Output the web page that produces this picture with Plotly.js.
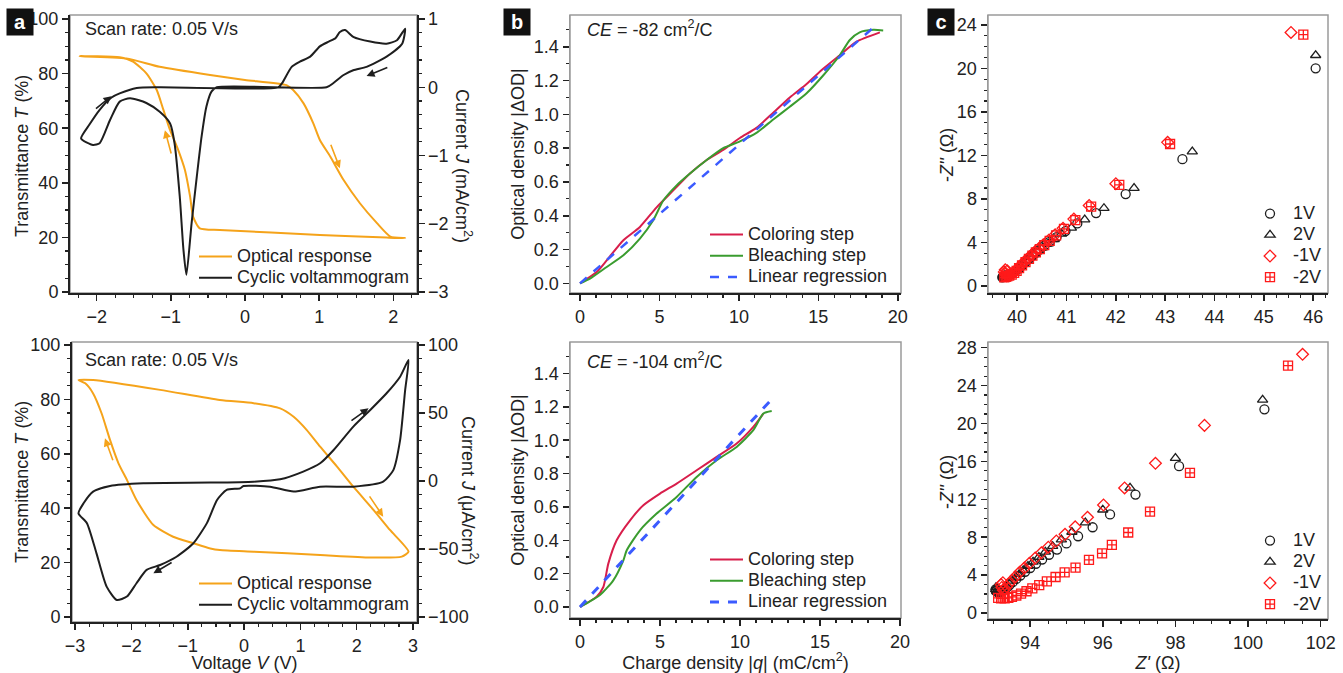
<!DOCTYPE html>
<html><head><meta charset="utf-8">
<script src="https://cdn.plot.ly/plotly-3.0.1.min.js"></script>
<style>html,body{margin:0;padding:0;background:#fff}#chart{width:1343px;height:673px}</style>
</head><body><div id="chart"></div>
<script>
// ---------- Panel a (top): scan 0.05 V/s ----------
const aTopOptV = [-2.23,-1.6,-1.15,-0.47,0,0.56,0.65,0.79,0.92,1.01,1.15,1.33,1.55,1.78,1.96,2.16,1.91,1.01,-0.34,-0.61,-0.70,-0.74,-0.81,-0.9,-1.01,-1.1,-1.19,-1.33,-1.51,-1.69,-2.23];
const aTopOptT = [86.4,85.6,82.5,79.5,77.7,75.8,74,69.1,61.9,55.7,49.6,41,32.5,25.2,20.3,19.7,19.9,20.9,22.7,23.3,27.6,34.9,44.7,52,59.3,66.7,74,80.1,84.4,86,86.4];
const aTopCvV = [-2.21,-2.1,-1.96,-1.8,-1.69,-1.46,-1.15,0.45,0.50,0.63,0.74,0.88,1.01,1.13,1.22,1.28,1.35,1.46,1.69,1.91,2.05,2.16,2.12,1.91,1.64,1.46,1.33,1.19,1.10,-0.38,-0.45,-0.52,-0.585,-0.65,-0.72,-0.79,-0.83,-0.88,-0.95,-1.01,-1.15,-1.33,-1.55,-1.69,-1.82,-1.96,-2.05,-2.21];
const aTopCvJ = [-0.75,-0.55,-0.33,-0.15,-0.09,-0.01,0,0,0.06,0.30,0.375,0.45,0.6,0.67,0.72,0.81,0.84,0.74,0.67,0.64,0.69,0.86,0.64,0.45,0.30,0.25,0.18,0.06,0,0,-0.06,-0.28,-0.72,-1.31,-1.99,-2.75,-2.38,-1.6,-0.82,-0.53,-0.36,-0.23,-0.16,-0.21,-0.48,-0.82,-0.845,-0.75];

// ---------- Panel a (bottom) ----------
const aBotOptV = [-2.94,-2.68,-1.49,-0.43,0.17,0.64,0.88,1.11,1.35,1.65,1.94,2.30,2.59,2.92,2.80,2.24,1.35,0.17,-0.43,-0.6,-0.9,-1.26,-1.61,-1.91,-2.08,-2.23,-2.38,-2.53,-2.68,-2.82,-2.94];
const aBotOptT = [87.1,87.1,83.5,79.8,78.6,76.7,73.6,68.8,62.6,55.3,47.9,39.3,32,24,22.2,21.9,22.8,24,24.6,25.2,27.1,29.5,33.8,43,50.4,56.5,65.1,74.9,82.2,85.9,87.1];
const aBotCvV = [-2.94,-2.85,-2.68,-2.38,-1.79,-0.6,0.17,0.64,1.05,1.35,1.59,1.94,2.24,2.53,2.77,2.92,2.86,2.77,2.65,2.47,1.94,1.35,0.88,0.46,-0.01,-0.07,-0.31,-0.48,-0.66,-0.9,-1.2,-1.49,-1.73,-1.91,-2.08,-2.26,-2.44,-2.62,-2.79,-2.94];
const aBotCvJ = [-23.8,-16.4,-7.8,-3.7,-1.7,-1.2,-0.5,1.2,6.9,13,22.8,40,52.2,64.5,76.7,89,67,30,8,-0.5,-4.2,-4.2,-7.8,-4.2,-3.7,-5.4,-6.6,-14,-31,-45.8,-55.7,-61.8,-65.4,-75.2,-85,-87.5,-77.7,-53.2,-31,-23.8];

// ---------- Panel b (top): CE = -82 ----------
const bTopColQ = [0,1.05,1.68,2.73,3.77,4.82,5.87,6.92,7.97,9.01,10.06,11.1,12.16,13.2,14.26,15.3,16.35,17.4,18.87];
const bTopColOD = [0,0.067,0.136,0.255,0.334,0.45,0.55,0.65,0.73,0.79,0.86,0.92,1.01,1.10,1.18,1.27,1.35,1.43,1.485];
const bTopBleQ = [0,0.63,1.68,2.73,3.77,4.61,5.24,6.08,6.92,7.97,9.01,10.06,11.1,12.16,13.2,14.26,15.3,16.35,16.98,17.6,18.45,19.08];
const bTopBleOD = [0,0.028,0.097,0.166,0.265,0.374,0.49,0.58,0.65,0.73,0.80,0.84,0.89,0.97,1.045,1.125,1.23,1.35,1.44,1.485,1.50,1.497];
const bTopFitQ = [0,18.7];
const bTopFitOD = [0,1.533];

// ---------- Panel b (bottom): CE = -104 ----------
const bBotColQ = [0,1.04,1.46,1.77,2.29,3.13,3.96,5.0,6.04,7.29,8.54,9.79,10.83,11.46];
const bBotColOD = [0,0.062,0.12,0.26,0.40,0.52,0.61,0.68,0.74,0.82,0.90,0.98,1.08,1.16];
const bBotBleQ = [0,1.25,2.08,2.71,2.92,3.75,4.79,6.04,7.29,8.54,9.79,10.83,11.46,11.98];
const bBotBleOD = [0,0.072,0.16,0.28,0.34,0.46,0.56,0.66,0.78,0.88,0.96,1.06,1.16,1.175];
const bBotFitQ = [0,12.05];
const bBotFitOD = [0,1.253];

// ---------- Panel c (top): Nyquist ----------
const cTop1VRe = [46.05,43.35,42.2,41.6,41.22,40.98,40.80,40.66,40.55,40.46,40.38,40.31,40.24,40.18,40.12,40.06,40.0,39.95,39.9,39.85,39.8,39.76,39.73,39.71,39.7];
const cTop1VIm = [20.0,11.65,8.45,6.7,5.75,5.05,4.5,4.05,3.7,3.35,3.05,2.8,2.5,2.25,2.0,1.75,1.5,1.3,1.15,1.05,1.0,0.95,0.9,0.85,0.8];
const cTop2VRe = [46.05,43.55,42.37,41.76,41.37,41.1,40.9,40.75,40.63,40.52,40.43,40.35,40.27,40.2,40.13,40.07,40.01,39.95,39.9,39.85,39.8,39.75,39.72];
const cTop2VIm = [21.2,12.35,9.0,7.15,6.1,5.35,4.8,4.3,3.9,3.55,3.25,2.95,2.65,2.35,2.05,1.8,1.55,1.35,1.2,1.1,1.0,0.95,0.85];
const cTopM1VRe = [45.55,43.05,42.0,41.46,41.15,40.93,40.77,40.64,40.53,40.44,40.36,40.29,40.22,40.15,40.09,40.03,39.98,39.93,39.88,39.83,39.79,39.76,39.74,39.76,39.8];
const cTopM1VIm = [23.3,13.2,9.4,7.4,6.15,5.3,4.7,4.2,3.8,3.45,3.15,2.85,2.55,2.25,1.95,1.7,1.45,1.25,1.1,1.0,0.95,1.1,1.3,1.5,1.4];
const cTopM2VRe = [45.8,43.1,42.07,41.5,41.18,40.95,40.79,40.66,40.55,40.46,40.38,40.31,40.24,40.17,40.1,40.04,39.99,39.94,39.89,39.84,39.8,39.77,39.74];
const cTopM2VIm = [23.1,13.05,9.3,7.3,6.05,5.25,4.65,4.15,3.75,3.4,3.1,2.8,2.5,2.2,1.9,1.65,1.4,1.2,1.05,0.95,0.9,0.85,0.8];

// ---------- Panel c (bottom): Nyquist ----------
const cBot1VRe = [100.45,98.1,96.9,96.2,95.72,95.32,95.0,94.74,94.52,94.33,94.16,94.0,93.86,93.73,93.62,93.52,93.43,93.36,93.3,93.25,93.2,93.15,93.1,93.06,93.05];
const cBot1VIm = [21.5,15.5,12.5,10.4,9.05,8.1,7.35,6.7,6.15,5.65,5.2,4.75,4.35,3.95,3.6,3.25,2.95,2.7,2.5,2.35,2.25,2.2,2.2,2.3,2.5];
const cBot2VRe = [100.4,98.0,96.75,96.0,95.52,95.15,94.86,94.62,94.42,94.24,94.08,93.94,93.81,93.7,93.6,93.51,93.43,93.36,93.3,93.24,93.18,93.13,93.08,93.05,93.06];
const cBot2VIm = [22.5,16.35,13.2,10.9,9.55,8.55,7.75,7.05,6.45,5.9,5.4,4.95,4.5,4.1,3.75,3.4,3.1,2.8,2.6,2.4,2.3,2.25,2.3,2.5,2.7];
const cBotM1VRe = [101.5,98.8,97.45,96.6,96.02,95.58,95.24,94.96,94.72,94.5,94.31,94.14,93.98,93.84,93.71,93.6,93.5,93.42,93.35,93.3,93.26,93.22,93.2,93.25];
const cBotM1VIm = [27.3,19.8,15.8,13.2,11.4,10.1,9.1,8.3,7.6,6.95,6.35,5.8,5.25,4.75,4.3,3.85,3.45,3.1,2.8,2.55,2.4,2.7,3.0,3.2];
const cBotM2VRe = [101.1,98.4,97.3,96.7,96.25,95.98,95.62,95.25,94.95,94.7,94.46,94.25,94.06,93.9,93.75,93.62,93.5,93.4,93.3,93.2,93.12];
const cBotM2VIm = [26.1,14.8,10.7,8.5,7.2,6.3,5.6,4.8,4.3,3.8,3.35,2.95,2.6,2.3,2.05,1.85,1.7,1.6,1.55,1.55,1.6];

// ---------- labels ----------
const optName = 'Optical response', cvName = 'Cyclic voltammogram';
const colName = 'Coloring step', bleName = 'Bleaching step', fitName = 'Linear regression';
const eisNames = ['1V', '2V', '-1V', '-2V'];

// ---------- styling ----------
const W = 1343, H = 673;
const FAM = 'Arial, "Liberation Sans", sans-serif';
const INK = '#222';
const ORANGE = '#F5A31A', BLACK = '#1e1e1e', CRIMSON = '#D81E4B', GREEN = '#3A9C2F', BLUE = '#3B5BFF', RED = '#FF1A1A';
const fnt = (s, c) => ({family: FAM, size: s, color: c || INK});
const dx = (a, b) => [a / W, b / W];
const dy = (t, b) => [1 - b / H, 1 - t / H];
// legend entries: compact row height (legend font 14) with 18px visible text
const big = s => '<span style="font-size:18px">' + s + '</span>';

function axis(o) {
  const base = {
    showgrid: false, zeroline: false, showline: true, linecolor: INK, linewidth: 1.5,
    ticks: 'outside', ticklen: 6, tickwidth: 1.5, tickcolor: INK, tickfont: fnt(18),
    minor: {ticks: 'outside', ticklen: 3, tickwidth: 1.2, tickcolor: INK, dtick: o.mdtick},
    fixedrange: true
  };
  delete o.mdtick;
  return Object.assign(base, o);
}

const lineTrace = (x, y, name, color, xa, ya, leg, extra) => Object.assign({
  type: 'scatter', mode: 'lines', x: x, y: y, name: big(name), xaxis: xa, yaxis: ya, legend: leg,
  line: {color: color, width: 2, shape: 'spline', smoothing: 0.6}, hoverinfo: 'skip'
}, extra || {});
const markTrace = (x, y, name, color, symbol, xa, ya, leg) => ({
  type: 'scatter', mode: 'markers', x: x, y: y, name: big(name), xaxis: xa, yaxis: ya, legend: leg,
  marker: {symbol: symbol, size: 9, color: color, line: {width: 1.3, color: color}}, hoverinfo: 'skip'
});

const data = [
  lineTrace(aTopOptV, aTopOptT, optName, ORANGE, 'x', 'y', 'legend'),
  lineTrace(aTopCvV, aTopCvJ, cvName, BLACK, 'x', 'y7', 'legend'),
  lineTrace(aBotOptV, aBotOptT, optName, ORANGE, 'x4', 'y4', 'legend4'),
  lineTrace(aBotCvV, aBotCvJ, cvName, BLACK, 'x4', 'y8', 'legend4'),
  lineTrace(bTopColQ, bTopColOD, colName, CRIMSON, 'x2', 'y2', 'legend2'),
  lineTrace(bTopBleQ, bTopBleOD, bleName, GREEN, 'x2', 'y2', 'legend2'),
  lineTrace(bTopFitQ, bTopFitOD, fitName, BLUE, 'x2', 'y2', 'legend2', {line: {color: BLUE, width: 2.5, dash: 'dash'}}),
  lineTrace(bBotColQ, bBotColOD, colName, CRIMSON, 'x5', 'y5', 'legend5'),
  lineTrace(bBotBleQ, bBotBleOD, bleName, GREEN, 'x5', 'y5', 'legend5'),
  lineTrace(bBotFitQ, bBotFitOD, fitName, BLUE, 'x5', 'y5', 'legend5', {line: {color: BLUE, width: 3, dash: 'dash'}}),
  markTrace(cTop1VRe, cTop1VIm, eisNames[0], BLACK, 'circle-open', 'x3', 'y3', 'legend3'),
  markTrace(cTop2VRe, cTop2VIm, eisNames[1], BLACK, 'triangle-up-open', 'x3', 'y3', 'legend3'),
  markTrace(cTopM1VRe, cTopM1VIm, eisNames[2], RED, 'diamond-open', 'x3', 'y3', 'legend3'),
  markTrace(cTopM2VRe, cTopM2VIm, eisNames[3], RED, 'square-cross-open', 'x3', 'y3', 'legend3'),
  markTrace(cBot1VRe, cBot1VIm, eisNames[0], BLACK, 'circle-open', 'x6', 'y6', 'legend6'),
  markTrace(cBot2VRe, cBot2VIm, eisNames[1], BLACK, 'triangle-up-open', 'x6', 'y6', 'legend6'),
  markTrace(cBotM1VRe, cBotM1VIm, eisNames[2], RED, 'diamond-open', 'x6', 'y6', 'legend6'),
  markTrace(cBotM2VRe, cBotM2VIm, eisNames[3], RED, 'square-cross-open', 'x6', 'y6', 'legend6')
];

const legBase = (x, y, iw) => ({x: x / W, y: 1 - y / H, xanchor: 'left', yanchor: 'top', bgcolor: 'rgba(0,0,0,0)',
  font: fnt(14), tracegroupgap: 0, itemwidth: iw || 33, borderwidth: 0});

const GREY = '#9a9a9a';
const frame = (xa, ya) => ({type: 'rect', xref: xa + ' domain', yref: ya + ' domain', x0: 0, x1: 1, y0: 0, y1: 1,
  line: {color: GREY, width: 1.5}, layer: 'below'});

const arrow = (xa, ya, x0, y0, x1, y1, c) => ({xref: xa, yref: ya, axref: xa, ayref: ya, x: x1, y: y1, ax: x0, ay: y0,
  text: '', showarrow: true, arrowhead: 2, arrowsize: 1, arrowwidth: 1.6, arrowcolor: c, standoff: 0, startstandoff: 0});

const panelTag = (t, cx) => ({xref: 'paper', yref: 'paper', x: cx / W, y: 1 - 22.5 / H, xanchor: 'center', yanchor: 'middle',
  text: '<b>' + t + '</b>', showarrow: false, bgcolor: '#111', width: 24, height: 24, font: fnt(20, '#fff')});
const note = (t, x, y) => ({xref: 'paper', yref: 'paper', x: x / W, y: 1 - y / H, xanchor: 'left', yanchor: 'middle',
  text: t, showarrow: false, font: fnt(18)});
const vTitle = (t, x, y, ang) => ({xref: 'paper', yref: 'paper', x: x / W, y: 1 - y / H, xanchor: 'center', yanchor: 'middle',
  text: t, textangle: ang, showarrow: false, font: fnt(18)});

const layout = {
  width: W, height: H, margin: {l: 0, r: 0, t: 0, b: 0}, paper_bgcolor: '#fff', plot_bgcolor: 'rgba(0,0,0,0)',
  font: fnt(18), showlegend: true, hovermode: false,
  // panel a top
  xaxis: axis({domain: dx(70, 417), range: [-2.36, 2.32], dtick: 1, tick0: 0, mdtick: 0.25, anchor: 'y', linewidth: 2}),
  yaxis: axis({domain: dy(15, 293), range: [-0.4, 101.5], dtick: 20, tick0: 0, mdtick: 5, anchor: 'x', linewidth: 2}),
  yaxis7: axis({overlaying: 'y', side: 'right', anchor: 'x', range: [-3.016, 1.06], dtick: 1, tick0: 0, mdtick: 0.2, linewidth: 1.5}),
  // panel a bottom
  xaxis4: axis({domain: dx(72, 417), range: [-3.055, 3.07], dtick: 1, tick0: 0, mdtick: 0.25, anchor: 'y4', linewidth: 2,
    title: {text: 'Voltage <i>V</i> (V)', font: fnt(18)}}),
  yaxis4: axis({domain: dy(342, 622), range: [-1.84, 101.1], dtick: 20, tick0: 0, mdtick: 5, anchor: 'x4', linewidth: 2}),
  yaxis8: axis({overlaying: 'y4', side: 'right', anchor: 'x4', range: [-103.7, 102.2], dtick: 50, tick0: 0, mdtick: 10}),
  // panel b top
  xaxis2: axis({domain: dx(570, 901), range: [-0.63, 20.2], dtick: 5, tick0: 0, mdtick: 1, anchor: 'y2', linewidth: 2}),
  yaxis2: axis({domain: dy(15, 293), range: [-0.057, 1.588], dtick: 0.2, tick0: 0, mdtick: 0.1, anchor: 'x2', linecolor: GREY,
    tickformat: '.1f', title: {text: 'Optical density |ΔOD|', font: fnt(18)}}),
  // panel b bottom
  xaxis5: axis({domain: dx(570, 901), range: [-0.625, 20.06], dtick: 5, tick0: 0, mdtick: 1, anchor: 'y5', linewidth: 2,
    title: {text: 'Charge density |<i>q</i>| (mC/cm<sup>2</sup>)', font: fnt(18)}}),
  yaxis5: axis({domain: dy(342, 618), range: [-0.066, 1.589], dtick: 0.2, tick0: 0, mdtick: 0.1, anchor: 'x5', linecolor: GREY,
    tickformat: '.1f', title: {text: 'Optical density |ΔOD|', font: fnt(18)}}),
  // panel c top
  xaxis3: axis({domain: dx(988, 1328), range: [39.41, 46.3], dtick: 1, tick0: 0, mdtick: 0.25, anchor: 'y3', linewidth: 2}),
  yaxis3: axis({domain: dy(15, 293), range: [-0.64, 24.9], dtick: 4, tick0: 0, mdtick: 1, anchor: 'x3', linecolor: GREY}),
  // panel c bottom
  xaxis6: axis({domain: dx(988, 1328), range: [92.84, 102.2], dtick: 2, tick0: 0, mdtick: 0.5, anchor: 'y6', linewidth: 2,
    title: {text: '<i>Z\'</i> (Ω)', font: fnt(18)}}),
  yaxis6: axis({domain: dy(342, 619), range: [-0.63, 28.6], dtick: 4, tick0: 0, mdtick: 1, anchor: 'x6', linecolor: GREY}),
  legend: legBase(194, 241),
  legend4: legBase(194, 568),
  legend2: legBase(705, 219),
  legend5: legBase(705, 544),
  legend3: legBase(1247, 198, 36),
  legend6: legBase(1247, 525, 36),
  shapes: [frame('x', 'y'), frame('x4', 'y4'), frame('x2', 'y2'), frame('x5', 'y5'), frame('x3', 'y3'), frame('x6', 'y6')],
  annotations: [
    panelTag('a', 19.5), panelTag('b', 516.5), panelTag('c', 940.5),
    note('Scan rate: 0.05 V/s', 83, 29), note('Scan rate: 0.05 V/s', 83, 360),
    note('<i>CE</i> = -82 cm<sup>2</sup>/C', 585, 29), note('<i>CE</i> = -104 cm<sup>2</sup>/C', 585, 360),
    vTitle('Transmittance <i>T</i> (%)', 22, 156, -90),
    vTitle('Transmittance <i>T</i> (%)', 22, 482, -90),
    vTitle('-<i>Z\'\'</i> (Ω)', 947, 155, -90),
    vTitle('-<i>Z\'\'</i> (Ω)', 947, 482, -90),
    vTitle('Current <i>J</i> (mA/cm<sup>2</sup>)', 464, 166, 90),
    vTitle('Current <i>J</i> (μA/cm<sup>2</sup>)', 470, 490, 90),
    arrow('x', 'y7', -2.03, -0.33, -1.8, -0.13, BLACK),
    arrow('x', 'y7', 1.94, 0.30, 1.64, 0.165, BLACK),
    arrow('x', 'y', -0.99, 50.2, -1.08, 59.3, ORANGE),
    arrow('x', 'y', 1.15, 54.5, 1.28, 45.3, ORANGE),
    arrow('x4', 'y4', -2.32, 57.1, -2.47, 65.7, ORANGE),
    arrow('x4', 'y4', 2.21, 44.9, 2.47, 36.9, ORANGE),
    arrow('x4', 'y8', 1.88, 43.6, 2.21, 53.4, BLACK),
    arrow('x4', 'y8', -1.26, -59.3, -1.61, -67.9, BLACK)
  ]
};

Plotly.newPlot('chart', data, layout, {staticPlot: true, displayModeBar: false});
</script></body></html>
